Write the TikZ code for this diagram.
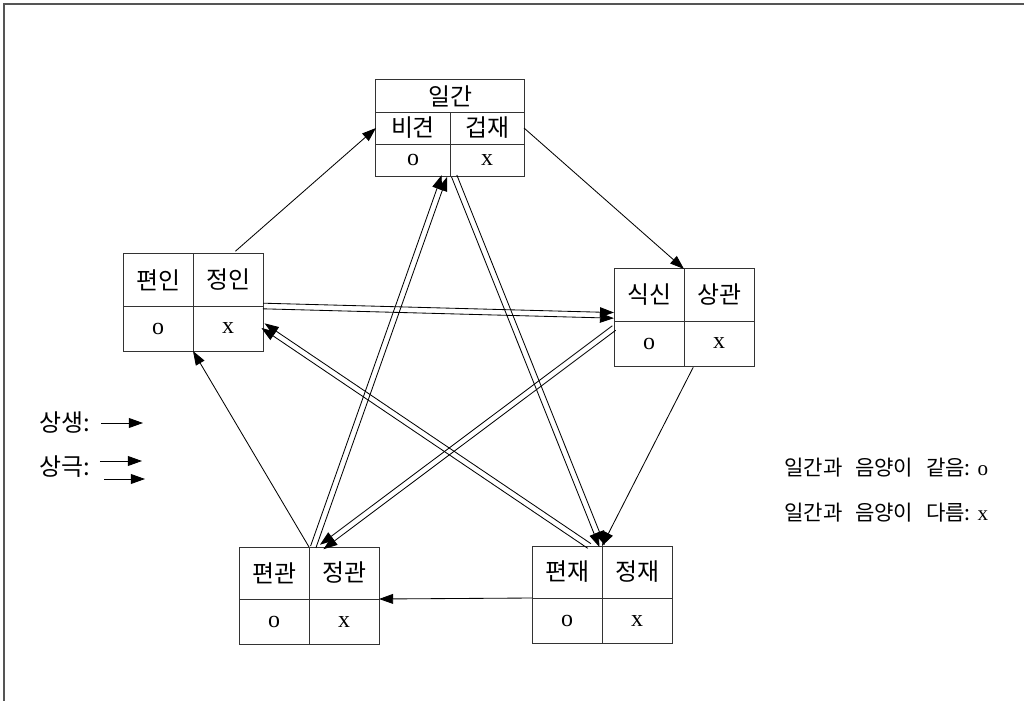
\documentclass[tikz,border=0pt]{standalone}
\usepackage{fontspec}
\setmainfont{Liberation Serif}
\newfontfamily\kr{Noto Sans CJK KR}
\usetikzlibrary{arrows.meta,positioning,calc}
\definecolor{boxline}{HTML}{333333}
\definecolor{framegray}{HTML}{555555}

\begin{document}
\begin{tikzpicture}[
    x=0.025cm, y=-0.025cm,
    cell/.style={draw=boxline, line width=0.7pt, minimum width=1.75cm, minimum height=1.3cm, inner sep=0pt, outer sep=0pt, font=\kr\fontsize{17}{20}\selectfont},
    valcell/.style={draw=boxline, line width=0.7pt, minimum width=1.75cm, minimum height=1.125cm, inner sep=0pt, outer sep=0pt, font=\fontsize{17}{20}\selectfont},
    topcell/.style={cell, minimum width=1.85cm, minimum height=0.8cm},
    topval/.style={valcell, minimum width=1.85cm, minimum height=0.8cm},
    legend/.style={font=\kr\fontsize{17}{20}\selectfont, inner sep=2pt},
    note/.style={font=\fontsize{15}{18}\selectfont, inner sep=0pt},
    arrow/.style={-{Triangle[length=10pt,width=7pt]}, line width=0.6pt}
]
\useasboundingbox (0,0) rectangle (1024,701);
\draw[framegray, line width=1pt] (4,701) -- (4,4) -- (1024,4);

% 일간
\node[topcell, minimum width=3.7cm] (ilgan) at (450,96) {일간};
\node[topcell, below right=0pt of ilgan.south west] (bigyeon) {비견};
\node[topcell, right=0pt of bigyeon] (geopjae) {겁재};
\node[topval, below=0pt of bigyeon] (bigyeon-v) {o};
\node[topval, below=0pt of geopjae] (geopjae-v) {x};

% 인성
\node[cell] (pyeonin) at (158,280) {편인};
\node[cell, right=0pt of pyeonin] (jeongin) {정인};
\node[valcell, below=0pt of pyeonin] (pyeonin-v) {o};
\node[valcell, below=0pt of jeongin] (jeongin-v) {x};

% 식상
\node[cell] (siksin) at (649,295) {식신};
\node[cell, right=0pt of siksin] (sanggwan) {상관};
\node[valcell, below=0pt of siksin] (siksin-v) {o};
\node[valcell, below=0pt of sanggwan] (sanggwan-v) {x};

% 관성
\node[cell] (pyeongwan) at (274,573) {편관};
\node[cell, right=0pt of pyeongwan] (jeonggwan) {정관};
\node[valcell, below=0pt of pyeongwan] (pyeongwan-v) {o};
\node[valcell, below=0pt of jeonggwan] (jeonggwan-v) {x};

% 재성
\node[cell] (pyeonjae) at (567,572) {편재};
\node[cell, right=0pt of pyeonjae] (jeongjae) {정재};
\node[valcell, below=0pt of pyeonjae] (pyeonjae-v) {o};
\node[valcell, below=0pt of jeongjae] (jeongjae-v) {x};

% 상생
\draw[arrow, shorten <=3pt] ([xshift=3pt]jeongin.north) -- (bigyeon.west);
\draw[arrow] (geopjae.east) -- (sanggwan.north west);
\draw[arrow, shorten <=1pt] ([xshift=7pt]sanggwan-v.south west) -- (jeongjae.north west);
\draw[arrow] (pyeonjae-v.north west) -- (jeonggwan-v.north east);
\draw[arrow] (pyeongwan.north east) -- (pyeonin-v.south east);

% 상극
\coordinate (k1a) at (jeongin-v.north east);
\coordinate (k1b) at ([yshift=4pt]siksin-v.north west);
\coordinate (k2a) at ([yshift=-5pt]siksin-v.north west);
\coordinate (k2b) at ([xshift=9pt]jeonggwan.north west);
\coordinate (k3a) at ([xshift=3pt]pyeongwan.north east);
\coordinate (k3b) at ([xshift=-4pt]bigyeon-v.south east);
\coordinate (k4a) at ([xshift=3pt]geopjae-v.south west);
\coordinate (k4b) at (jeongjae.north west);
\coordinate (k5a) at ([xshift=-9pt]jeongjae.north west);
\coordinate (k5b) at ([yshift=-14pt]jeongin-v.north east);

\draw[arrow] ($(k1a)!2pt!90:(k1b)$) -- ($(k1b)!2pt!-90:(k1a)$);
\draw[arrow] ($(k1a)!-2pt!90:(k1b)$) -- ($(k1b)!-2pt!-90:(k1a)$);
\draw[arrow] ($(k2a)!2pt!90:(k2b)$) -- ($(k2b)!2pt!-90:(k2a)$);
\draw[arrow] ($(k2a)!-2pt!90:(k2b)$) -- ($(k2b)!-2pt!-90:(k2a)$);
\draw[arrow] ($(k3a)!2pt!90:(k3b)$) -- ($(k3b)!2pt!-90:(k3a)$);
\draw[arrow] ($(k3a)!-2pt!90:(k3b)$) -- ($(k3b)!-2pt!-90:(k3a)$);
\draw[arrow] ($(k4a)!2pt!90:(k4b)$) -- ($(k4b)!2pt!-90:(k4a)$);
\draw[arrow] ($(k4a)!-2pt!90:(k4b)$) -- ($(k4b)!-2pt!-90:(k4a)$);
\draw[arrow] ($(k5a)!2pt!90:(k5b)$) -- ($(k5b)!2pt!-90:(k5a)$);
\draw[arrow] ($(k5a)!-2pt!90:(k5b)$) -- ($(k5b)!-2pt!-90:(k5a)$);

% 범례
\node[legend, anchor=west] (saeng) at (36,423) {상생:};
\coordinate (saeng-end) at (143,423);
\draw[arrow, shorten <=6pt] (saeng) -- (saeng-end);

\node[legend, anchor=west] (geuk) at (36,467) {상극:};
\coordinate (geuk-end1) at (142,461);
\coordinate (geuk-end2) at (145,479);
\draw[arrow, shorten <=5pt] (geuk.east |- geuk-end1) -- (geuk-end1);
\draw[arrow, shorten <=8pt] (geuk.east |- geuk-end2) -- (geuk-end2);

\node[note, anchor=west] (same) at (784,468) {{\kr 일간과\hspace{9pt}음양이\hspace{9pt}같음:}\hspace{5pt}o};
\node[note, anchor=west] (diff) at (784,513) {{\kr 일간과\hspace{9pt}음양이\hspace{9pt}다름:}\hspace{5pt}x};
\end{tikzpicture}
\end{document}
